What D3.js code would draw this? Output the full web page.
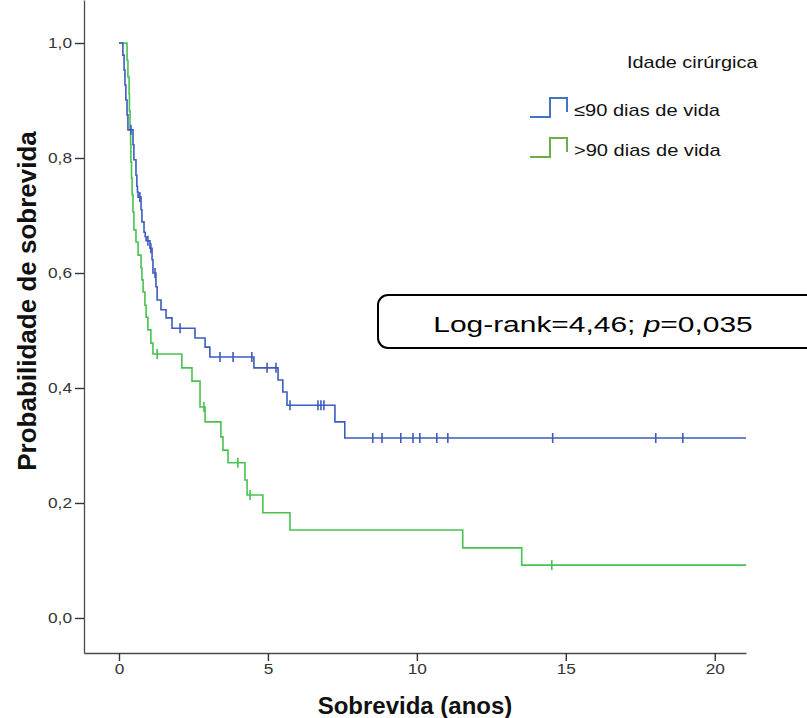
<!DOCTYPE html>
<html>
<head>
<meta charset="utf-8">
<script src="https://cdn.jsdelivr.net/npm/d3@7"></script>
<style>
  body { margin: 0; background: #fff; }
  svg { display: block; font-family: "Liberation Sans", Arial, sans-serif; }
</style>
</head>
<body>
<svg id="chart" width="807" height="718"></svg>
<script>
// Kaplan-Meier steps (time in years, survival after the drop)
const groupNames = ['≤90 dias de vida', '>90 dias de vida'];

const earlyTimes = [0.13, 0.17, 0.20, 0.23, 0.27, 0.30, 0.47, 0.50, 0.57, 0.60, 0.62, 0.64, 0.74, 0.77,
    0.84, 0.88, 0.91, 1.04, 1.11, 1.14, 1.24, 1.28, 1.41, 1.58, 1.78, 2.55, 2.89, 3.05, 4.53,
    5.34, 5.50, 5.64, 7.25, 7.58];
const earlySurv = [0.979, 0.953, 0.927, 0.901, 0.875, 0.849, 0.823, 0.797, 0.770, 0.751, 0.741, 0.732, 0.710, 0.689,
    0.671, 0.663, 0.656, 0.643, 0.623, 0.600, 0.576, 0.553, 0.536, 0.522, 0.504, 0.487, 0.471, 0.454, 0.435,
    0.414, 0.393, 0.370, 0.341, 0.313];
const earlyCensored = [0.40, 0.70, 0.97, 1.07, 1.21, 2.05, 3.39, 3.83, 4.46, 4.97, 5.27, 5.74, 6.68, 6.78, 6.88,
    8.52, 8.83, 9.46, 9.87, 10.10, 10.67, 11.04, 14.56, 18.02, 18.93];

const lateTimes = [0.27, 0.30, 0.34, 0.35, 0.37, 0.39, 0.40, 0.42, 0.44, 0.47, 0.50, 0.57, 0.64, 0.74, 0.77,
    0.81, 0.87, 0.91, 0.97, 1.07, 1.14, 2.11, 2.45, 2.72, 2.89, 3.42, 3.49, 3.66, 4.23, 4.30, 4.83,
    5.74, 11.54, 13.52];
const lateSurv = [0.970, 0.941, 0.911, 0.882, 0.852, 0.823, 0.793, 0.765, 0.736, 0.706, 0.675, 0.654, 0.631, 0.609, 0.588,
    0.567, 0.544, 0.523, 0.501, 0.478, 0.459, 0.435, 0.412, 0.367, 0.341, 0.315, 0.292, 0.270, 0.240, 0.214, 0.183,
    0.153, 0.122, 0.092];
const lateCensored = [1.28, 2.85, 3.99, 4.40, 14.53];

const followUpEnd = 21.05;
const yTicks = [0, 0.2, 0.4, 0.6, 0.8, 1.0];
const xTicks = [0, 5, 10, 15, 20];

const svg = d3.select('#chart');

const x = d3.scaleLinear().domain([-1.175, followUpEnd]).range([84, 746]);
const y = d3.scaleLinear().domain([-0.0609, 1.0748]).range([653, 0]);

const comma = d => d3.format('.1f')(d).replace('.', ',');

// the source text is a bit wider than Liberation Sans, so widen glyphs to match
function widen(sel, k) {
    sel.each(function() {
        const w = this.getComputedTextLength();
        d3.select(this).attr('textLength', w * k).attr('lengthAdjust', 'spacingAndGlyphs');
    });
}

// axes
const yAxis = svg.append('g')
    .attr('transform', 'translate(84,0)')
    .call(d3.axisLeft(y).tickValues(yTicks).tickFormat(comma).tickSize(9).tickSizeOuter(0).tickPadding(3));
const xAxis = svg.append('g')
    .attr('transform', 'translate(0,653)')
    .call(d3.axisBottom(x).tickValues(xTicks).tickSize(8).tickSizeOuter(0).tickPadding(2));

[yAxis, xAxis].forEach(g => {
    g.select('.domain').attr('stroke', '#4a4a4a').attr('stroke-width', 1.3);
    g.selectAll('.tick line').attr('stroke', '#333').attr('stroke-width', 1.4);
    g.selectAll('.tick text').attr('fill', '#333').attr('font-size', 15)
        .attr('font-family', '"Liberation Sans", Arial, sans-serif')
        .call(widen, 1.15);
});

svg.append('text')
    .attr('transform', 'translate(27,301) rotate(-90)')
    .attr('text-anchor', 'middle')
    .attr('dominant-baseline', 'central')
    .attr('font-size', 26)
    .attr('font-weight', 'bold')
    .attr('fill', '#111')
    .text('Probabilidade de sobrevida');

svg.append('text')
    .attr('x', 415)
    .attr('y', 705)
    .attr('text-anchor', 'middle')
    .attr('dominant-baseline', 'central')
    .attr('font-size', 24)
    .attr('font-weight', 'bold')
    .attr('fill', '#111')
    .text('Sobrevida (anos)');

// survival curves
const groups = [
    { times: earlyTimes, surv: earlySurv, censored: earlyCensored, color: '#3d5cbd', icon: '#4472c4' },
    { times: lateTimes, surv: lateSurv, censored: lateCensored, color: '#48c24f', icon: '#70ad47' }
];

const stepLine = d3.line()
    .x(d => x(d[0]))
    .y(d => y(d[1]))
    .curve(d3.curveStepAfter);

function survAt(g, t) {
    let s = 1;
    g.times.forEach((tt, i) => { if (tt <= t) s = g.surv[i]; });
    return s;
}

// green drawn first, blue on top
[groups[1], groups[0]].forEach(g => {
    const pts = [[0, 1]].concat(g.times.map((t, i) => [t, g.surv[i]]));
    pts.push([followUpEnd, g.surv[g.surv.length - 1]]);

    svg.append('path')
        .attr('d', stepLine(pts))
        .attr('fill', 'none')
        .attr('stroke', g.color)
        .attr('stroke-width', 1.6);

    svg.append('g')
        .selectAll('line')
        .data(g.censored)
        .enter().append('line')
        .attr('x1', d => x(d))
        .attr('x2', d => x(d))
        .attr('y1', d => y(survAt(g, d)) - 5)
        .attr('y2', d => y(survAt(g, d)) + 5)
        .attr('stroke', g.color)
        .attr('stroke-width', 1.6);
});

// legend
svg.append('text')
    .attr('x', 627)
    .attr('y', 68)
    .attr('font-size', 17)
    .attr('fill', '#111')
    .text('Idade cirúrgica')
    .call(widen, 1.17);

groups.forEach((g, i) => {
    const top = 98 + i * 40;
    const bottom = top + 19;
    svg.append('path')
        .attr('d', `M530,${bottom}H550V${top}H567V${bottom - 5}`)
        .attr('fill', 'none')
        .attr('stroke', g.icon)
        .attr('stroke-width', 2);
    svg.append('text')
        .attr('x', 574)
        .attr('y', bottom - 1)
        .attr('font-size', 17)
        .attr('fill', '#111')
        .text(groupNames[i])
        .call(widen, 1.18);
});

// test annotation box
svg.append('rect')
    .attr('x', 378)
    .attr('y', 295)
    .attr('width', 460)
    .attr('height', 53)
    .attr('rx', 10)
    .attr('fill', '#fff')
    .attr('stroke', '#000')
    .attr('stroke-width', 2);

const note = svg.append('text')
    .attr('x', 593)
    .attr('y', 324)
    .attr('text-anchor', 'middle')
    .attr('dominant-baseline', 'central')
    .attr('font-size', 22)
    .attr('fill', '#000');
note.append('tspan').text('Log-rank=4,46; ');
note.append('tspan').attr('font-style', 'italic').text('p');
note.append('tspan').text('=0,035');
note.call(widen, 1.36);
</script>
</body>
</html>
